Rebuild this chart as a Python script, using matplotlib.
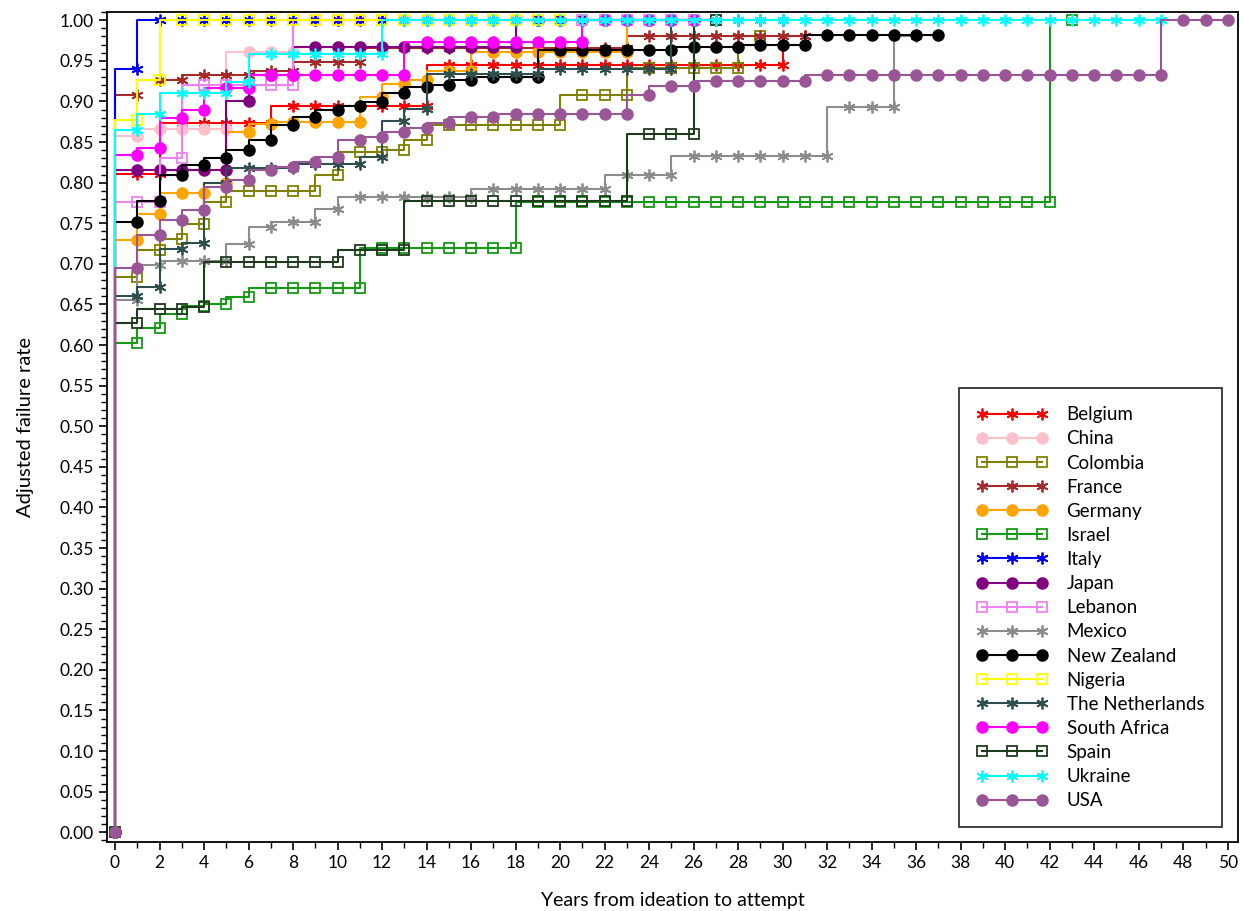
import numpy as np
import matplotlib
matplotlib.use('Agg')
import matplotlib.pyplot as plt
from matplotlib.ticker import MultipleLocator, FormatStrFormatter

plt.rcParams['font.family'] = ['Lato', 'DejaVu Sans']

# Adjusted failure rate by year (index = years from ideation, starting at 0)
belgium = [0.0, 0.811, 0.811, 0.873, 0.873, 0.873, 0.873, 0.873, 0.895, 0.895, 0.895,
           0.895, 0.895, 0.895, 0.895, 0.945, 0.945, 0.945, 0.945, 0.945, 0.945,
           0.945, 0.945, 0.945, 0.945, 0.945, 0.945, 0.945, 0.945, 0.945, 0.945, 0.981]
china = [0.0, 0.858, 0.866, 0.866, 0.866, 0.866, 0.961, 0.961, 0.961, 1.0, 1.0,
         1.0, 1.0, 1.0, 1.0, 1.0, 1.0, 1.0, 1.0, 1.0, 1.0]
colombia = [0.0, 0.684, 0.717, 0.731, 0.749, 0.776, 0.790, 0.790, 0.790, 0.790, 0.809,
            0.838, 0.838, 0.840, 0.852, 0.871, 0.871, 0.871, 0.871, 0.871, 0.871,
            0.908, 0.908, 0.908, 0.941, 0.941, 0.941, 0.941, 0.941, 0.981]
france = [0.0, 0.908, 0.926, 0.926, 0.932, 0.932, 0.932, 0.937, 0.937, 0.949, 0.949,
          0.949, 0.966, 0.966, 0.966, 0.966, 0.966, 0.966, 0.966, 0.966, 0.966,
          0.966, 0.966, 0.966, 0.981, 0.981, 0.981, 0.981, 0.981, 0.981, 0.981, 0.981]
germany = [0.0, 0.729, 0.762, 0.787, 0.787, 0.800, 0.862, 0.872, 0.875, 0.875, 0.875,
           0.875, 0.905, 0.922, 0.926, 0.938, 0.938, 0.961, 0.961, 0.961, 0.961,
           0.961, 0.961, 0.961, 1.0, 1.0, 1.0]
israel = [0.0, 0.603, 0.621, 0.638, 0.648, 0.651, 0.659, 0.670, 0.670, 0.670, 0.670,
          0.670, 0.720, 0.720, 0.720, 0.720, 0.720, 0.720, 0.720, 0.776, 0.776,
          0.776, 0.776, 0.776, 0.776, 0.776, 0.776, 0.776, 0.776, 0.776, 0.776,
          0.776, 0.776, 0.776, 0.776, 0.776, 0.776, 0.776, 0.776, 0.776, 0.776,
          0.776, 0.776, 1.0]
italy = [0.0, 0.940, 1.0, 1.0, 1.0, 1.0, 1.0, 1.0, 1.0, 1.0, 1.0,
         1.0, 1.0, 1.0, 1.0, 1.0, 1.0, 1.0, 1.0, 1.0, 1.0,
         1.0, 1.0, 1.0, 1.0, 1.0, 1.0, 1.0, 1.0, 1.0, 1.0]
japan = [0.0, 0.815, 0.815, 0.815, 0.815, 0.815, 0.901, 0.932, 0.932, 0.967, 0.967,
         0.967, 0.967, 0.967, 0.967, 0.967, 0.967, 0.967, 0.967, 1.0, 1.0,
         1.0, 1.0, 1.0, 1.0, 1.0, 1.0]
lebanon = [0.0, 0.776, 0.776, 0.830, 0.920, 0.920, 0.920, 0.920, 0.920, 1.0, 1.0,
           1.0, 1.0, 1.0, 1.0, 1.0, 1.0, 1.0, 1.0, 1.0, 1.0,
           1.0, 1.0, 1.0, 1.0, 1.0, 1.0]
mexico = [0.0, 0.655, 0.698, 0.704, 0.704, 0.704, 0.725, 0.745, 0.751, 0.751, 0.768,
          0.782, 0.782, 0.782, 0.782, 0.782, 0.782, 0.792, 0.792, 0.792, 0.792,
          0.792, 0.792, 0.810, 0.810, 0.810, 0.833, 0.833, 0.833, 0.833, 0.833,
          0.833, 0.833, 0.893, 0.893, 0.893, 0.981]
new_zealand = [0.0, 0.751, 0.778, 0.809, 0.822, 0.830, 0.840, 0.852, 0.871, 0.881, 0.889,
               0.895, 0.899, 0.911, 0.918, 0.920, 0.926, 0.930, 0.930, 0.930, 0.963,
               0.963, 0.963, 0.963, 0.963, 0.963, 0.967, 0.967, 0.967, 0.970, 0.970,
               0.970, 0.982, 0.982, 0.982, 0.982, 0.982, 0.982]
nigeria = [0.0, 0.877, 0.926, 1.0, 1.0, 1.0, 1.0, 1.0, 1.0, 1.0, 1.0,
           1.0, 1.0, 1.0, 1.0, 1.0, 1.0, 1.0, 1.0, 1.0, 1.0]
netherlands = [0.0, 0.661, 0.671, 0.718, 0.726, 0.800, 0.818, 0.818, 0.818, 0.823, 0.823,
               0.823, 0.832, 0.876, 0.891, 0.934, 0.934, 0.934, 0.934, 0.934, 0.940,
               0.940, 0.940, 0.940, 0.940, 0.940, 1.0, 1.0]
south_africa = [0.0, 0.834, 0.843, 0.879, 0.890, 0.916, 0.916, 0.932, 0.932, 0.932, 0.932,
                0.932, 0.932, 0.932, 0.973, 0.973, 0.973, 0.973, 0.973, 0.973, 0.973,
                0.973, 1.0, 1.0, 1.0, 1.0, 1.0]
spain = [0.0, 0.627, 0.645, 0.645, 0.647, 0.702, 0.702, 0.702, 0.702, 0.702, 0.702,
         0.717, 0.717, 0.717, 0.778, 0.778, 0.778, 0.778, 0.778, 0.778, 0.778,
         0.778, 0.778, 0.778, 0.860, 0.860, 0.860, 1.0]
ukraine = [0.0, 0.865, 0.884, 0.910, 0.910, 0.910, 0.924, 0.959, 0.959, 0.959, 0.959,
           0.959, 0.959, 1.0, 1.0, 1.0, 1.0, 1.0, 1.0, 1.0, 1.0,
           1.0, 1.0, 1.0, 1.0, 1.0, 1.0, 1.0, 1.0, 1.0, 1.0,
           1.0, 1.0, 1.0, 1.0, 1.0, 1.0, 1.0, 1.0, 1.0, 1.0,
           1.0, 1.0, 1.0, 1.0, 1.0, 1.0, 1.0]
usa = [0.0, 0.695, 0.735, 0.754, 0.766, 0.795, 0.803, 0.816, 0.819, 0.825, 0.832,
       0.852, 0.856, 0.862, 0.867, 0.873, 0.881, 0.881, 0.884, 0.884, 0.884,
       0.884, 0.884, 0.884, 0.908, 0.919, 0.919, 0.925, 0.925, 0.925, 0.925,
       0.925, 0.932, 0.932, 0.932, 0.932, 0.932, 0.932, 0.932, 0.932, 0.932,
       0.932, 0.932, 0.932, 0.932, 0.932, 0.932, 0.932, 1.0, 1.0, 1.0]

# name, values, colour, marker kind
series = [
    ('Belgium', belgium, '#FF0000', 'star'),
    ('China', china, '#FFC0CB', 'circle'),
    ('Colombia', colombia, '#808000', 'square'),
    ('France', france, '#A52A2A', 'star'),
    ('Germany', germany, '#FFA500', 'circle'),
    ('Israel', israel, '#159A15', 'square'),
    ('Italy', italy, '#0000FF', 'star'),
    ('Japan', japan, '#800080', 'circle'),
    ('Lebanon', lebanon, '#EE82EE', 'square'),
    ('Mexico', mexico, '#8C8C8C', 'star'),
    ('New Zealand', new_zealand, '#000000', 'circle'),
    ('Nigeria', nigeria, '#FFFF00', 'square'),
    ('The Netherlands', netherlands, '#2F4F4F', 'star'),
    ('South Africa', south_africa, '#FF00FF', 'circle'),
    ('Spain', spain, '#1E3B1E', 'square'),
    ('Ukraine', ukraine, '#00FFFF', 'star'),
    ('USA', usa, '#9A5596', 'circle'),
]

fig = plt.figure(figsize=(12.44, 9.11), dpi=100)
ax = fig.add_axes([0.086, 0.0757, 0.909, 0.911])

for name, vals, color, kind in series:
    years = np.arange(len(vals))
    if kind == 'star':
        mk = dict(marker=(6, 2, 0), markersize=8.5, markeredgewidth=1.3,
                  markeredgecolor=color)
    elif kind == 'circle':
        mk = dict(marker='o', markersize=8, markerfacecolor=color,
                  markeredgecolor=color)
    else:
        mk = dict(marker='s', markersize=7, markerfacecolor='none',
                  markeredgecolor=color, markeredgewidth=1.3)
    ax.plot(years, vals, drawstyle='steps-pre', color=color, linewidth=1.5,
            label=name, **mk)

ax.set_xlim(-0.36, 50.45)
ax.set_ylim(-0.012, 1.01)
ax.xaxis.set_major_locator(MultipleLocator(2))
ax.xaxis.set_minor_locator(MultipleLocator(1))
ax.yaxis.set_major_locator(MultipleLocator(0.05))
ax.yaxis.set_minor_locator(MultipleLocator(0.01))
ax.yaxis.set_major_formatter(FormatStrFormatter('%.2f'))
ax.tick_params(which='major', direction='out', length=6, width=1.2, labelsize=12.5)
ax.tick_params(which='minor', direction='out', length=4, width=1.0)
for sp in ax.spines.values():
    sp.set_linewidth(1.3)

ax.set_xlabel('Years from ideation to attempt', fontsize=14, labelpad=15)
ax.set_ylabel('Adjusted failure rate', fontsize=14.5, labelpad=18)

leg = ax.legend(loc='lower right', bbox_to_anchor=(0.986, 0.018), numpoints=3,
                handlelength=3.8, fontsize=13.5, frameon=True, fancybox=False,
                edgecolor='black', borderpad=0.95, labelspacing=0.38,
                handletextpad=1.0, borderaxespad=0)
leg.get_frame().set_linewidth(1.3)

fig.savefig('out.png', dpi=100)
